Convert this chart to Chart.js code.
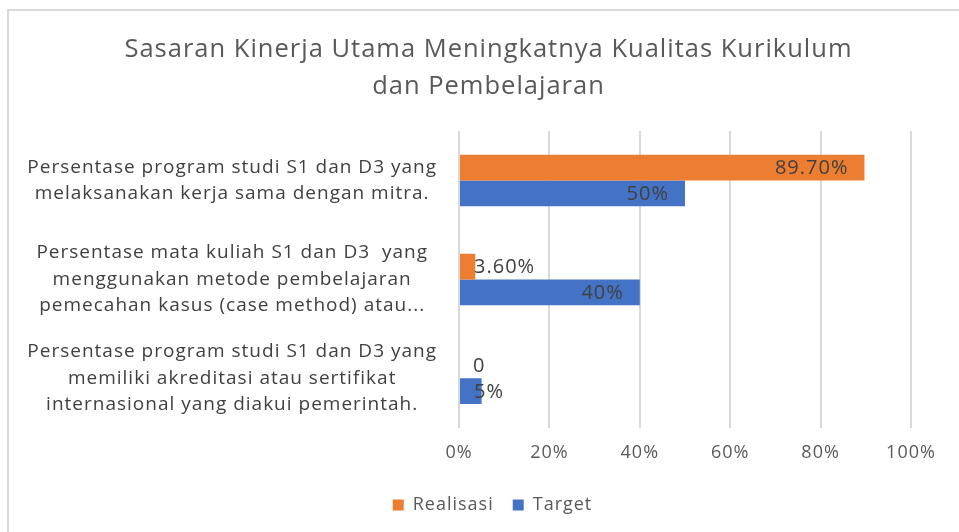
<!DOCTYPE html>
<html>
<head>
<meta charset="utf-8">
<script src="https://cdn.jsdelivr.net/npm/chart.js@4.4.0/dist/chart.umd.min.js"></script>
<style>
  html, body { margin: 0; padding: 0; background: #fff; }
  #wrap { position: relative; width: 959px; height: 532px; }
  #frame { position: absolute; left: 7px; top: 9px; right: 0; bottom: 0;
           border-left: 2px solid #d9d9d9; border-top: 2px solid #d9d9d9; pointer-events: none; }
</style>
</head>
<body>
<div id="wrap">
  <canvas id="kinerjaChart"></canvas>
  <div id="frame"></div>
</div>
<script>
// kategori (label sumbu y, multi baris)
const categories = [
    ['Persentase program studi S1 dan D3 yang', 'melaksanakan kerja sama dengan mitra.'],
    ['Persentase mata kuliah S1 dan D3  yang', 'menggunakan metode pembelajaran', 'pemecahan kasus (case method) atau...'],
    ['Persentase program studi S1 dan D3 yang', 'memiliki akreditasi atau sertifikat', 'internasional yang diakui pemerintah.']
];
const realisasi = [89.7, 3.6, 0];
const target = [50, 40, 5];
const xTicks = [0, 20, 40, 60, 80, 100];

const FONT = '"Open Sans", sans-serif';
const SPACING = '1px';

// teks di gambar asli agak renggang
const letterSpacing = {
    id: 'letterSpacing',
    beforeUpdate(chart) { chart.ctx.letterSpacing = SPACING; },
    beforeDraw(chart) { chart.ctx.letterSpacing = SPACING; }
};

// judul dan legenda sedikit ke kanan seperti di Excel
const shiftBlocks = {
    id: 'shiftBlocks',
    afterLayout(chart) {
        if (chart.titleBlock) { chart.titleBlock.left += 23; chart.titleBlock.right += 23; }
        if (chart.legend) { chart.legend.left += 27; chart.legend.right += 27; }
    }
};

// plugin sederhana untuk label data (mirip Excel)
const dataLabels = {
    id: 'dataLabels',
    afterDatasetsDraw(chart) {
        const ctx = chart.ctx;
        ctx.save();
        ctx.font = '20px ' + FONT;
        ctx.fillStyle = '#404040';
        ctx.textBaseline = 'middle';
        chart.data.datasets.forEach((ds, i) => {
            const meta = chart.getDatasetMeta(i);
            meta.data.forEach((bar, j) => {
                const v = ds.data[j];
                let txt;
                if (i === 0) txt = v === 0 ? '0' : v.toFixed(2) + '%';
                else txt = v + '%';
                const w = ctx.measureText(txt).width;
                const len = bar.x - bar.base;
                if (len > w + 30) {
                    ctx.textAlign = 'right';
                    ctx.fillText(txt, bar.x - 16, bar.y + 1);
                } else {
                    ctx.textAlign = 'left';
                    ctx.fillText(txt, bar.base + 14, bar.y + 1);
                }
            });
        });
        ctx.restore();
    }
};

const ctx = document.getElementById('kinerjaChart').getContext('2d');
const kinerjaChart = new Chart(ctx, {
    type: 'bar',
    data: {
        labels: categories,
        datasets: [{
            label: 'Realisasi',
            data: realisasi,
            backgroundColor: '#ed7d31',
            categoryPercentage: 0.52,
            barPercentage: 1
        }, {
            label: 'Target',
            data: target,
            backgroundColor: '#4472c4',
            categoryPercentage: 0.52,
            barPercentage: 1
        }]
    },
    options: {
        indexAxis: 'y',
        responsive: true,
        maintainAspectRatio: false,
        animation: false,
        layout: { padding: { left: 20, right: 48, top: 31, bottom: 8 } },
        plugins: {
            title: {
                display: true,
                text: ['Sasaran Kinerja Utama Meningkatnya Kualitas Kurikulum', 'dan Pembelajaran'],
                color: '#595959',
                font: { family: FONT, size: 25.5, weight: 'normal', lineHeight: 1.45 },
                padding: { top: 0, bottom: 26 }
            },
            legend: {
                position: 'bottom',
                labels: {
                    color: '#595959',
                    font: { family: FONT, size: 18 },
                    boxWidth: 11,
                    boxHeight: 11,
                    padding: 19
                }
            },
            tooltip: { enabled: false }
        },
        scales: {
            x: {
                min: 0,
                max: 100,
                afterBuildTicks: axis => { axis.ticks = xTicks.map(v => ({ value: v })); },
                ticks: {
                    color: '#595959',
                    font: { family: FONT, size: 18, lineHeight: 0.62 },
                    padding: 19,
                    callback: v => v + '%'
                },
                grid: { color: '#d9d9d9', lineWidth: 2, drawTicks: false },
                border: { display: false }
            },
            y: {
                afterFit: axis => { axis.width = 439; },
                grid: { display: false, drawTicks: false },
                border: { display: false },
                ticks: {
                    color: '#404040',
                    font: { family: FONT, size: 19, lineHeight: 1.4 },
                    crossAlign: 'center',
                    padding: 22,
                    autoSkip: false
                }
            }
        }
    },
    plugins: [letterSpacing, shiftBlocks, dataLabels]
});
</script>
</body>
</html>
